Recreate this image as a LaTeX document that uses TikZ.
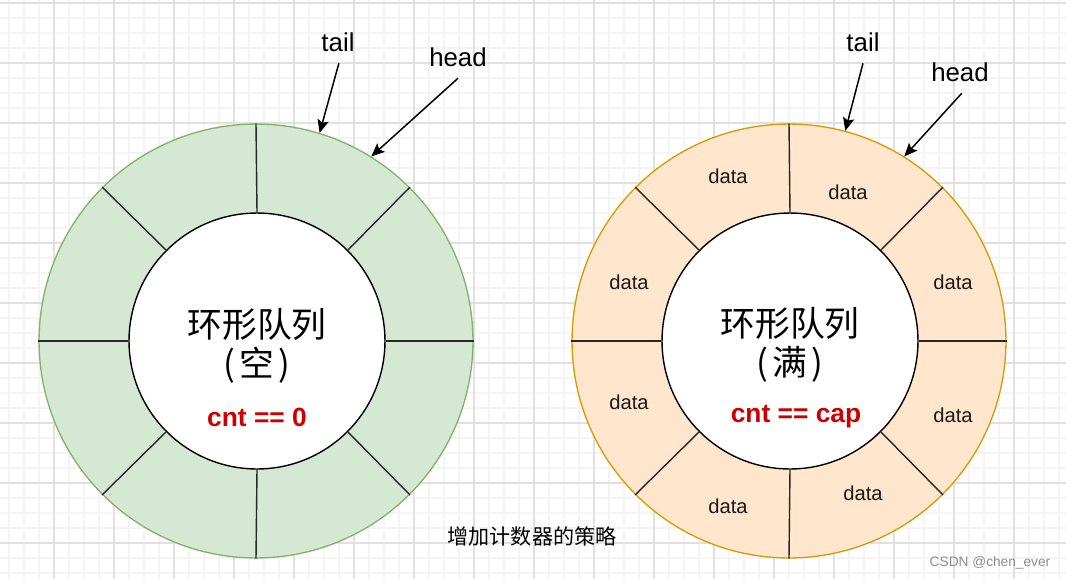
\documentclass[tikz,border=0pt]{standalone}
\usepackage{fontspec}
\setmainfont{Liberation Sans}
\newfontfamily\cjk{Noto Sans CJK SC}
\usetikzlibrary{arrows.meta}
\definecolor{gfill}{HTML}{D5E8D4}
\definecolor{gline}{HTML}{82B366}
\definecolor{ofill}{HTML}{FFE6CC}
\definecolor{oline}{HTML}{D79B00}
\definecolor{cred}{HTML}{CC0000}
\definecolor{gridminor}{HTML}{F4F4F4}
\definecolor{gridmajor}{HTML}{E0E0E0}
\definecolor{wm}{HTML}{8C8C8C}
\tikzset{
  minorline/.style={draw=gridminor, line width=0.6pt},
  majorline/.style={draw=gridmajor, line width=0.6pt},
  outerring/.style={circle, inner sep=0pt, minimum size=8.68cm, line width=0.75pt},
  innerring/.style={circle, inner sep=0pt, minimum size=5.12cm, draw=black, fill=white, line width=0.8pt},
  divider/.style={draw=black!85, line width=0.8pt},
  lbl/.style={font=\fontsize{14.7}{17}\selectfont, inner sep=2pt, text=black},
  datalbl/.style={font=\fontsize{11.5}{13}\selectfont, inner sep=1pt, text=black!90},
  title/.style={font=\cjk\fontsize{19.8}{22}\selectfont, align=center, inner sep=0pt},
  cntlbl/.style={font=\bfseries\fontsize{15}{17}\selectfont, text=cred, inner sep=0pt},
  pointer/.style={draw=black, line width=0.85pt, -{Stealth[length=7.5pt, width=6.5pt, inset=1.5pt]}},
}
\begin{document}
\begin{tikzpicture}[x=0.02cm, y=-0.02cm]
\useasboundingbox (0,0) rectangle (1066,579);
\fill[white] (0,0) rectangle (1066,579);
% grid
\foreach \x in {9,24,...,1059} \draw[minorline] (\x,0) -- (\x,579);
\foreach \y in {3,18,...,573} \draw[minorline] (0,\y) -- (1066,\y);
\foreach \x in {54,114,...,1014} \draw[majorline] (\x,0) -- (\x,579);
\foreach \y in {3,63,...,543} \draw[majorline] (0,\y) -- (1066,\y);

% left ring
\node[outerring, draw=gline, fill=gfill] (outerL) at (256,341) {};
\node[innerring] (innerL) at (257,341) {};
\foreach \a in {0,45,...,315} \draw[divider] (innerL.\a) -- (outerL.\a);
\node[title] (titleL) at (257,346) {环形队列\\(\hspace{0.12em}空\hspace{0.12em})};
\node[cntlbl] (cntL) at (257,417) {cnt == 0};

% right ring
\node[outerring, draw=oline, fill=ofill] (outerR) at (789,341) {};
\node[innerring] (innerR) at (790,341) {};
\foreach \a in {0,45,...,315} \draw[divider] (innerR.\a) -- (outerR.\a);
\node[title] (titleR) at (790,345) {环形队列\\(\hspace{0.12em}满\hspace{0.12em})};
\node[cntlbl] (cntR) at (796,417) {cnt == cap};

% data labels
\node[datalbl] (d1) at (728,176) {data};
\node[datalbl] (d2) at (848,192) {data};
\node[datalbl] (d3) at (629,282) {data};
\node[datalbl] (d4) at (953,282) {data};
\node[datalbl] (d5) at (629,402) {data};
\node[datalbl] (d6) at (953,415) {data};
\node[datalbl] (d7) at (728,506) {data};
\node[datalbl] (d8) at (863,493) {data};

% pointers
\node[lbl] (tailL) at (338,42) {tail};
\node[lbl] (headL) at (458,57) {head};
\node[lbl] (tailR) at (863,42) {tail};
\node[lbl] (headR) at (960,72) {head};
\draw[pointer] ([xshift=0.5pt,yshift=-4.5pt]tailL.south) -- (outerL.73.5);
\draw[pointer] ([yshift=-4.5pt]headL.south) -- (outerL.58.2);
\draw[pointer] ([yshift=-4.5pt]tailR.south) -- (outerR.75);
\draw[pointer] ([xshift=1pt,yshift=-4.5pt]headR.south) -- (outerR.58.4);

% caption and watermark
\node[font=\cjk\fontsize{12}{14}\selectfont, inner sep=0pt] (cap) at (532,536) {增加计数器的策略};
\node[font=\fontsize{7.8}{9}\selectfont, text=wm, inner sep=0pt] (wmk) at (990,563) {CSDN @chen\_ever};
\end{tikzpicture}
\end{document}
